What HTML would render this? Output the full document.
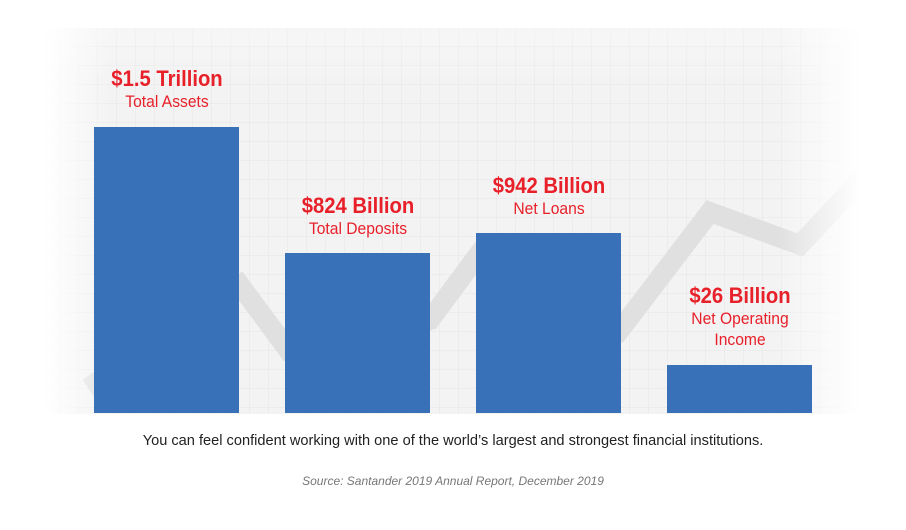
<!DOCTYPE html>
<html><head><style>
body{margin:0;width:906px;height:530px;background:#fff;position:relative;overflow:hidden;font-family:"Liberation Sans",sans-serif}
.bar{position:absolute;background:#3871b7;width:145px;bottom:117px}
.lbl{position:absolute;width:220px;text-align:center;color:#e8202a}
.lbl b{display:block;font-size:22px;line-height:24px;transform:scaleX(0.92)}
.lbl span{display:block;font-size:17px;line-height:21px;transform:scaleX(0.92)}
</style></head><body>
<svg width="906" height="530" style="position:absolute;left:0;top:0">
<defs>
<pattern id="g" width="19" height="19" patternUnits="userSpaceOnUse" x="3" y="28">
<path d="M19 0V19M0 19H19" stroke="#e6e6e6" stroke-width="1" fill="none"/>
</pattern>
<linearGradient id="fx" x1="0" x2="1"><stop offset="0" stop-color="#fff" stop-opacity="1"/><stop offset="0.08" stop-color="#fff" stop-opacity="0"/><stop offset="0.9" stop-color="#fff" stop-opacity="0"/><stop offset="1" stop-color="#fff" stop-opacity="1"/></linearGradient>
<linearGradient id="fy" x1="0" y1="0" x2="0" y2="1"><stop offset="0" stop-color="#fff" stop-opacity="0.3"/><stop offset="0.15" stop-color="#fff" stop-opacity="0"/><stop offset="1" stop-color="#fff" stop-opacity="0"/></linearGradient>
<clipPath id="c"><rect x="45" y="28" width="815" height="386"/></clipPath>
</defs>
<rect x="45" y="28" width="815" height="386" fill="#f3f3f3"/>
<rect x="45" y="28" width="815" height="386" fill="url(#g)"/>
<polyline clip-path="url(#c)" points="88,388 240,285 288,350 430,320 478,255 620,330 710,212 800,245 870,170" fill="none" stroke="#e0e0e0" stroke-width="20"/>
<rect x="45" y="28" width="815" height="386" fill="url(#fx)"/>
<rect x="45" y="28" width="815" height="386" fill="url(#fy)"/>
</svg>
<div class="bar" style="left:94px;top:127px;height:286px"></div>
<div class="bar" style="left:285px;top:253px;height:160px"></div>
<div class="bar" style="left:476px;top:233px;height:180px"></div>
<div class="bar" style="left:667px;top:365px;height:48px"></div>
<div class="lbl" style="left:57px;top:67px"><b>$1.5 Trillion</b><span>Total Assets</span></div>
<div class="lbl" style="left:248px;top:194px"><b>$824 Billion</b><span>Total Deposits</span></div>
<div class="lbl" style="left:439px;top:174px"><b>$942 Billion</b><span>Net Loans</span></div>
<div class="lbl" style="left:630px;top:284px"><b>$26 Billion</b><span>Net Operating<br>Income</span></div>
<div style="position:absolute;left:0;width:906px;top:433px;text-align:center;font-size:14.6px;color:#222">You can feel confident working with one of the world’s largest and strongest financial institutions.</div>
<div style="position:absolute;left:0;width:906px;top:474px;text-align:center;font-size:12px;color:#777;font-style:italic">Source: Santander 2019 Annual Report, December 2019</div>
</body></html>
